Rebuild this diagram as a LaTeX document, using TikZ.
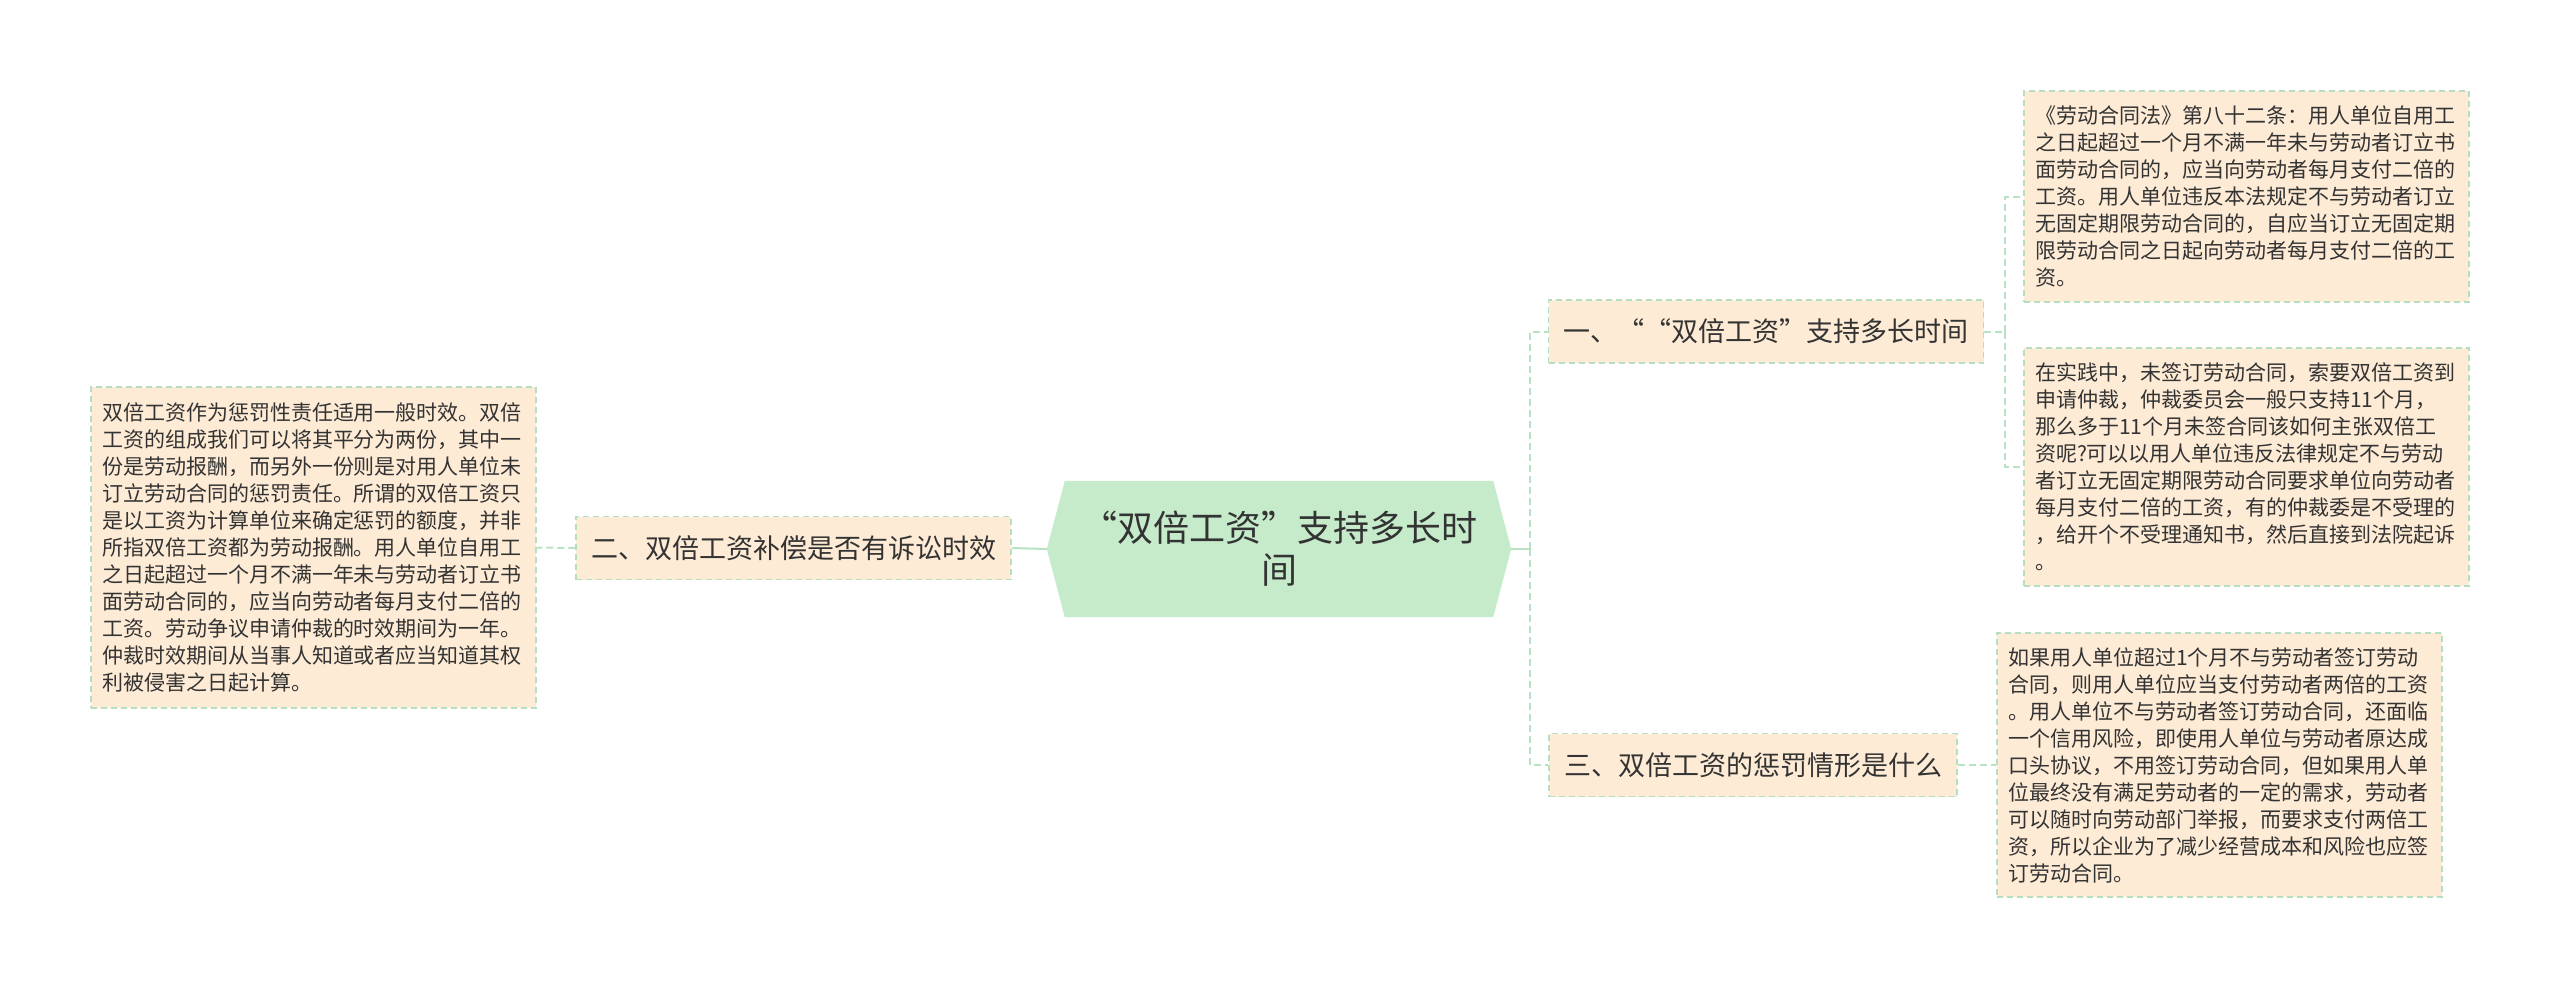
\documentclass[tikz,border=0pt]{standalone}
\usepackage{fontspec}
\newfontfamily\cjk{Noto Sans CJK SC}
\usetikzlibrary{backgrounds,calc}
\definecolor{leaffill}{HTML}{FDEBD5}
\definecolor{bgreen}{HTML}{B5DFC0}
\definecolor{cfill}{HTML}{C6EBCB}
\definecolor{txt}{HTML}{333333}
\definecolor{conncol}{HTML}{B9E2C3}
\newcommand\leafF{\cjk\fontsize{21}{27}\selectfont}
\newcommand\branchF{\cjk\fontsize{27}{33}\selectfont}
\newcommand\centerF{\cjk\fontsize{36}{42}\selectfont}
\begin{document}
\begin{tikzpicture}[x=1pt,y=-1pt,
  leaf/.style={draw=bgreen, line width=1.5pt, dash pattern=on 6pt off 4pt, fill=leaffill,
    text=txt, font=\leafF, align=left, text width=423pt, inner xsep=11pt, inner ysep=0pt, anchor=center},
  branch/.style={draw=bgreen, line width=1.5pt, dash pattern=on 6pt off 4pt, fill=leaffill,
    text=txt, font=\branchF, inner xsep=15pt, inner ysep=0pt, minimum height=63pt, anchor=center},
  central/.style={text=txt, font=\centerF, align=center, minimum width=464pt, minimum height=136pt, inner sep=0pt, anchor=center},
  conn/.style={draw=conncol, line width=2pt},
  dconn/.style={draw=conncol, line width=2pt, dash pattern=on 7pt off 4pt}
]
\begin{scope}[on background layer]
\fill[white] (0,0) rectangle (2560,989);
\end{scope}
\useasboundingbox (0,0) rectangle (2560,989);

\node[central] (c) at (1279,549) {“双倍工资”支持多长时\\间};
\begin{scope}[on background layer]
\fill[cfill] (c.west) -- ($(c.north west)+(18,0)$) -- ($(c.north east)+(-18,0)$) -- (c.east)
  -- ($(c.south east)+(-18,0)$) -- ($(c.south west)+(18,0)$) -- cycle;
\end{scope}

\node[branch] (b2) at (793.5,548) {二、双倍工资补偿是否有诉讼时效};
\node[branch] (b1) at (1766,331.5) {一、““双倍工资”支持多长时间};
\node[branch] (b3) at (1753,765) {三、双倍工资的惩罚情形是什么};

\node[leaf, minimum height=321pt] (l2) at (313.5,547.5) {双倍工资作为惩罚性责任适用一般时效。双倍\\
工资的组成我们可以将其平分为两份，其中一\\
份是劳动报酬，而另外一份则是对用人单位未\\
订立劳动合同的惩罚责任。所谓的双倍工资只\\
是以工资为计算单位来确定惩罚的额度，并非\\
所指双倍工资都为劳动报酬。用人单位自用工\\
之日起超过一个月不满一年未与劳动者订立书\\
面劳动合同的，应当向劳动者每月支付二倍的\\
工资。劳动争议申请仲裁的时效期间为一年。\\
仲裁时效期间从当事人知道或者应当知道其权\\
利被侵害之日起计算。};

\node[leaf, minimum height=211pt] (l1a) at (2246.5,196.5) {《劳动合同法》第八十二条：用人单位自用工\\
之日起超过一个月不满一年未与劳动者订立书\\
面劳动合同的，应当向劳动者每月支付二倍的\\
工资。用人单位违反本法规定不与劳动者订立\\
无固定期限劳动合同的，自应当订立无固定期\\
限劳动合同之日起向劳动者每月支付二倍的工\\
资。};

\node[leaf, minimum height=238pt] (l1b) at (2246.5,467) {在实践中，未签订劳动合同，索要双倍工资到\\
申请仲裁，仲裁委员会一般只支持11个月，\\
那么多于11个月未签合同该如何主张双倍工\\
资呢?可以以用人单位违反法律规定不与劳动\\
者订立无固定期限劳动合同要求单位向劳动者\\
每月支付二倍的工资，有的仲裁委是不受理的\\
，给开个不受理通知书，然后直接到法院起诉\\
。};

\node[leaf, minimum height=264pt] (l3) at (2219.5,765) {如果用人单位超过1个月不与劳动者签订劳动\\
合同，则用人单位应当支付劳动者两倍的工资\\
。用人单位不与劳动者签订劳动合同，还面临\\
一个信用风险，即使用人单位与劳动者原达成\\
口头协议，不用签订劳动合同，但如果用人单\\
位最终没有满足劳动者的一定的需求，劳动者\\
可以随时向劳动部门举报，而要求支付两倍工\\
资，所以企业为了减少经营成本和风险也应签\\
订劳动合同。};

\coordinate (sp) at ($(c.east)+(19,0)$);
\coordinate (sp1) at ($(b1.east)+(21,0)$);

\draw[conn] (c.west) -- (b2.east);
\draw[dconn] (b2.west) -- (l2.east);
\draw[conn] (c.east) -- (sp);
\draw[dconn] (sp) |- (b1.west);
\draw[dconn] (sp) |- (b3.west);
\draw[dconn] (b1.east) -- (sp1);
\draw[dconn] (sp1) |- (l1a.west);
\draw[dconn] (sp1) |- (l1b.west);
\draw[dconn] (b3.east) -- (l3.west);
\end{tikzpicture}
\end{document}
